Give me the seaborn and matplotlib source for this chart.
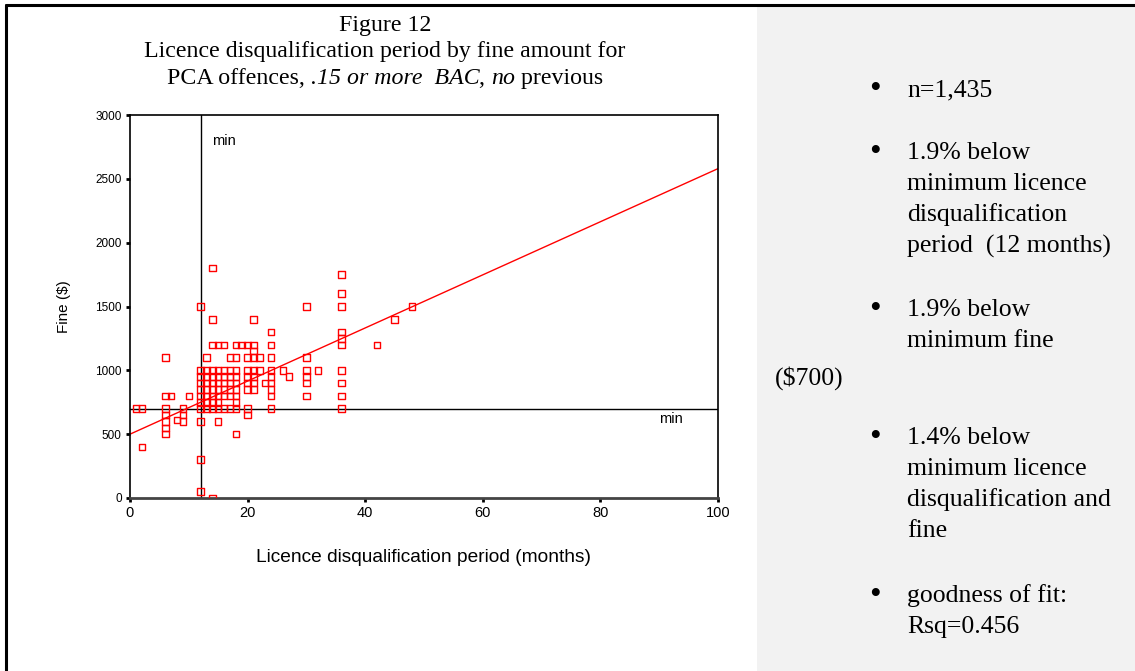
import matplotlib
matplotlib.use("Agg")
import matplotlib.pyplot as plt
from matplotlib.patches import Rectangle
from matplotlib.lines import Line2D
import pandas as pd
import seaborn as sns

# Distinct (months, fine) positions, grouped by fine amount in dollars
fine_rows = {
    1800: [14],
    1750: [36],
    1600: [36],
    1500: [12, 30, 36, 48],
    1400: [14, 21, 45],
    1300: [24, 36],
    1250: [36],
    1200: [14, 15, 16, 18, 19, 20, 21, 24, 36, 42],
    1150: [21],
    1100: [6, 13, 17, 18, 20, 21, 22, 24, 30],
    1000: [12, 13, 14, 15, 16, 17, 18, 20, 21, 22, 24, 26, 30, 32, 36],
    950: [12, 13, 14, 15, 16, 17, 18, 20, 21, 24, 27, 30],
    900: [12, 13, 14, 15, 16, 17, 18, 20, 21, 23, 24, 30, 36],
    850: [12, 13, 14, 15, 16, 17, 18, 20, 21, 24],
    800: [6, 7, 10, 12, 13, 14, 15, 16, 17, 18, 24, 30, 36],
    750: [12, 13, 14, 15, 18],
    700: [1, 2, 6, 9, 12, 13, 14, 15, 16, 17, 18, 20, 24, 36],
    650: [6, 9, 20],
    610: [8],
    600: [6, 9, 12, 15],
    550: [6],
    500: [6, 18],
    400: [2],
    300: [12],
    50: [12],
    0: [14],
}

# Linear fit of fine on disqualification period
fit_intercept = 500.0
fit_slope = 20.8
fit_x = [0, 100]

# Statutory minimums
min_months = 12
min_fine = 700

x_ticks = [0, 20, 40, 60, 80, 100]
y_ticks = [0, 500, 1000, 1500, 2000, 2500, 3000]

# Third title line: (text, italic?)
title_parts = [
    ("PCA offences, ", False),
    (".15 or more  BAC", True),
    (", ", False),
    ("no", True),
    (" previous", False),
]

notes = [
    ("n=1,435", 90),
    ("1.9% below\nminimum licence\ndisqualification\nperiod  (12 months)", 153),
    ("1.9% below\nminimum fine", 310),
    ("1.4% below\nminimum licence\ndisqualification and\nfine", 438),
    ("goodness of fit:\nRsq=0.456", 596),
]

months, fines = [], []
for f, ms in fine_rows.items():
    for m in ms:
        months.append(m)
        fines.append(f)
points = pd.DataFrame({"months": months, "fine": fines})
fit = pd.DataFrame({"months": fit_x,
                    "fine": [fit_intercept + fit_slope * v for v in fit_x]})

sns.set_theme(style="white")
plt.rcParams["font.family"] = ["Liberation Sans", "DejaVu Sans"]
plt.rcParams["text.color"] = "black"
plt.rcParams["axes.labelcolor"] = "black"
plt.rcParams["xtick.color"] = "black"
plt.rcParams["ytick.color"] = "black"

W, H = 1135, 671
fig = plt.figure(figsize=(W / 100, H / 100), dpi=100)
fig.patch.set_facecolor("white")

# Grey side panel and page frame
fig.patches.append(Rectangle((757 / W, 0), 1 - 757 / W, 1 - 6 / H,
                             transform=fig.transFigure, facecolor="#f2f2f2",
                             edgecolor="none", zorder=0))
fig.lines.append(Line2D([6 / W, 1], [1 - 5 / H, 1 - 5 / H],
                        transform=fig.transFigure, color="black", lw=2.2))
fig.lines.append(Line2D([6 / W, 6 / W], [0, 1 - 5 / H],
                        transform=fig.transFigure, color="black", lw=2.2))

ax = fig.add_axes([130 / W, (H - 498) / H, (718 - 130) / W, (498 - 115) / H])
ax.set_facecolor("white")

ax.axvline(min_months, color="black", lw=1.0, zorder=1)
ax.axhline(min_fine, color="black", lw=1.0, zorder=1)

sns.lineplot(data=fit, x="months", y="fine", ax=ax, color="red", lw=1.0,
             zorder=2)
sns.scatterplot(data=points, x="months", y="fine", ax=ax, marker="s", s=22,
                fc="none", ec="red", linewidth=1.0, zorder=3)

ax.set_xlim(0, 100)
ax.set_ylim(0, 3000)
ax.set_xticks(x_ticks)
ax.set_yticks(y_ticks)
ax.tick_params(axis="both", which="major", length=3, width=2, direction="out",
               color="black", pad=3, bottom=True, left=True)
ax.tick_params(axis="x", labelsize=10.5)
ax.tick_params(axis="y", labelsize=8.5)
for s in ax.spines.values():
    s.set_visible(True)
    s.set_color("black")
    s.set_linewidth(1.2)
ax.spines["bottom"].set_linewidth(2.0)
ax.spines["bottom"].set_color("#444444")

ax.set_xlabel("Licence disqualification period (months)", fontsize=13.8)
ax.set_ylabel("Fine ($)", fontsize=11)
ax.xaxis.set_label_coords(0.5, -0.133)
ax.yaxis.set_label_coords(-0.100, 0.5)

ax.text(14, 2800, "min", fontsize=10.5, va="center", ha="left")
ax.text(90, 620, "min", fontsize=10.5, va="center", ha="left")

serif = ["Liberation Serif", "DejaVu Serif"]
title_cx = 385 / W
title_fs = 17.2
fig.text(title_cx, 1 - 26 / H, "Figure 12", ha="center", va="center",
         fontsize=title_fs, family=serif)
fig.text(title_cx, 1 - 52 / H,
         "Licence disqualification period by fine amount for",
         ha="center", va="center", fontsize=title_fs, family=serif)

# Mixed upright/italic third line, laid out piece by piece and centred
renderer = fig.canvas.get_renderer()
pieces = []
for txt, ital in title_parts:
    t = fig.text(0, 0, txt, ha="left", va="baseline",
                 fontsize=title_fs, family=serif,
                 fontstyle="italic" if ital else "normal")
    pieces.append(t)
widths = [p.get_window_extent(renderer).width for p in pieces]
total = sum(widths)
x0 = title_cx * W - total / 2
base_y = 1 - 84 / H
for p, w in zip(pieces, widths):
    p.set_position((x0 / W, base_y))
    x0 += w

note_fs = 18.5
line_h = 31
for text, top in notes:
    fig.text(875 / W, 1 - top / H, "\u2022", ha="center", va="center",
             fontsize=24, family=serif)
    for i, ln in enumerate(text.split("\n")):
        fig.text(907 / W, 1 - (top + i * line_h) / H, ln, ha="left",
                 va="center", fontsize=note_fs, family=serif)
fig.text(775 / W, 1 - 378 / H, "($700)", ha="left", va="center",
         fontsize=note_fs, family=serif)

fig.savefig("out.png", dpi=100, facecolor=fig.get_facecolor())
